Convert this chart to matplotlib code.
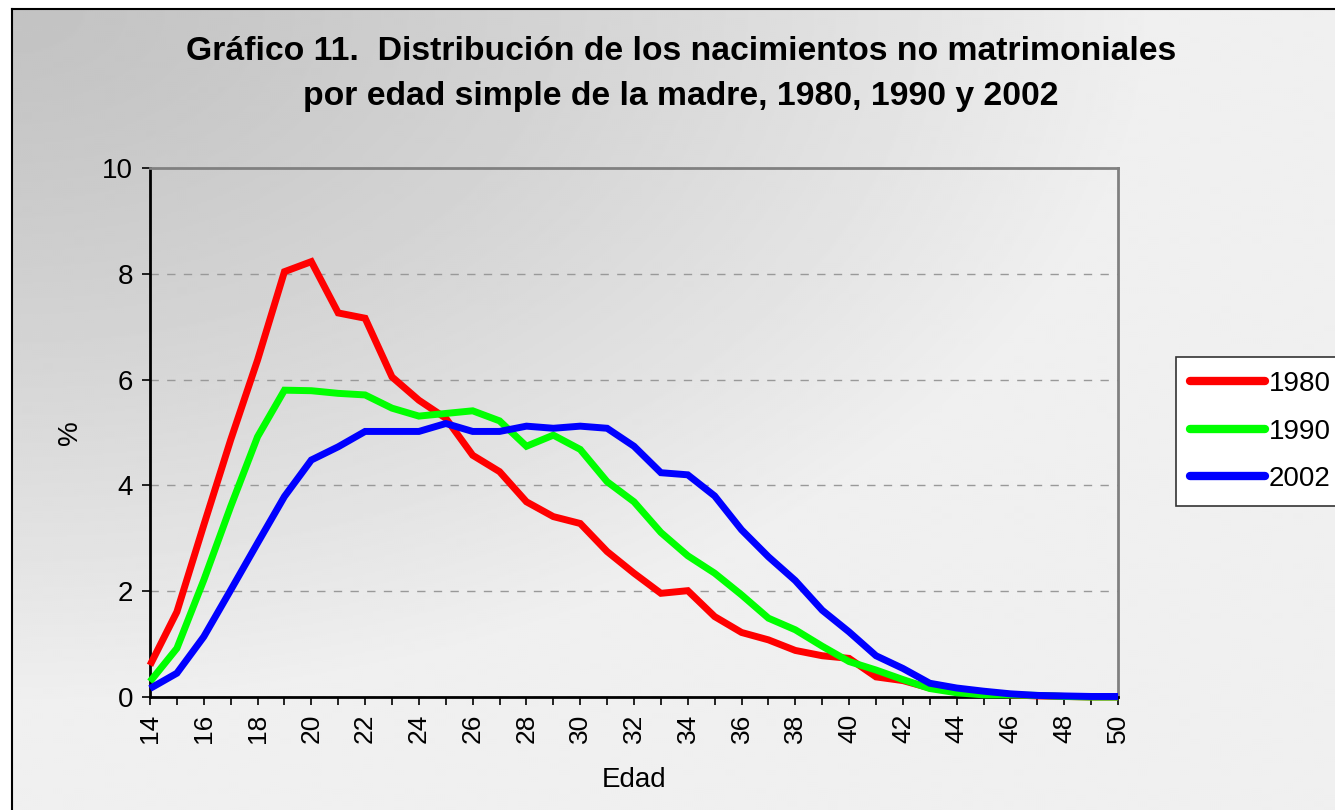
import numpy as np
import matplotlib.pyplot as plt

edad = list(range(14, 51))

y1980 = [0.6, 1.61, 3.25, 4.86, 6.37, 8.04, 8.23, 7.26, 7.16, 6.05, 5.61, 5.27,
         4.57, 4.26, 3.69, 3.41, 3.28, 2.75, 2.34, 1.96, 2.01, 1.52, 1.22, 1.08,
         0.88, 0.78, 0.73, 0.38, 0.31, 0.17, 0.12, 0.07, 0.04, 0.02, 0.01, 0.0, 0.0]
y1990 = [0.29, 0.92, 2.21, 3.6, 4.92, 5.8, 5.79, 5.74, 5.71, 5.46, 5.31, 5.36,
         5.41, 5.22, 4.74, 4.95, 4.68, 4.07, 3.69, 3.11, 2.67, 2.34, 1.93, 1.49,
         1.27, 0.96, 0.67, 0.51, 0.33, 0.16, 0.08, 0.04, 0.04, 0.03, 0.01, 0.0, 0.0]
y2002 = [0.16, 0.45, 1.14, 2.02, 2.91, 3.79, 4.48, 4.73, 5.02, 5.02, 5.02, 5.17,
         5.02, 5.02, 5.12, 5.08, 5.12, 5.08, 4.74, 4.24, 4.2, 3.8, 3.16, 2.65,
         2.2, 1.64, 1.23, 0.78, 0.54, 0.26, 0.17, 0.11, 0.06, 0.03, 0.02, 0.01, 0.01]

series = [("1980", y1980, "#ff0000"), ("1990", y1990, "#00ff00"), ("2002", y2002, "#0000ff")]

plt.rcParams['font.family'] = ['Liberation Sans', 'DejaVu Sans']

W, H = 1335, 810
fig = plt.figure(figsize=(W / 100, H / 100), dpi=100)
fig.patch.set_facecolor("white")

# background panel: gray gradient, darkest at the top-left corner
x0, y0 = 12, 9
bg = fig.add_axes([x0 / W, 0, 1 - x0 / W, 1 - y0 / H])
py, px = np.mgrid[y0:H:2, x0:W:2]
r = np.sqrt(((px - x0) / 1150.0) ** 2 + ((py - y0) / 700.0) ** 2)
grad = (195 + 45 * np.clip(r, 0, 1) ** 1.3) / 255.0
bg.imshow(grad, cmap="gray", vmin=0, vmax=1, aspect="auto", extent=[0, 1, 1, 0],
          interpolation="bilinear")
bg.set_xticks([])
bg.set_yticks([])
for s in ["right", "bottom"]:
    bg.spines[s].set_visible(False)
for s in ["left", "top"]:
    bg.spines[s].set_color("black")
    bg.spines[s].set_linewidth(1.5)

ax = fig.add_axes([150 / W, 1 - 697 / H, (1118 - 150) / W, (697 - 168) / H])
ax.set_facecolor("none")

for label, vals, col in series:
    ax.plot(edad, vals, color=col, lw=5, label=label, solid_capstyle="butt",
            solid_joinstyle="miter", zorder=3, clip_on=False)

ax.set_xlim(14, 50)
ax.set_ylim(0, 10)
ax.set_xticks(range(14, 51))
ax.set_xticklabels([str(v) if v % 2 == 0 else "" for v in range(14, 51)],
                   rotation=90, fontsize=19)
ax.set_yticks(range(0, 11, 2))
ax.set_yticklabels([str(v) for v in range(0, 11, 2)], fontsize=20)
ax.tick_params(direction="out", length=6, width=1.2, pad=6)
ax.yaxis.grid(True, linestyle=(0, (6, 6)), color="#999999", lw=1)
for gl in ax.get_ygridlines():
    gl.set_zorder(1)

ax.spines["left"].set_color("black")
ax.spines["bottom"].set_color("black")
ax.spines["top"].set_color("#808080")
ax.spines["right"].set_color("#808080")
for s in ax.spines.values():
    s.set_linewidth(2)

ax.set_xlabel("Edad", fontsize=20, labelpad=17)
ax.set_ylabel("%", fontsize=20, labelpad=14)

fig.text(681 / W, 1 - 52 / H, "Gráfico 11.  Distribución de los nacimientos no matrimoniales",
         ha="center", va="center", fontsize=24.3, fontweight="bold")
fig.text(681 / W, 1 - 97 / H, "por edad simple de la madre, 1980, 1990 y 2002",
         ha="center", va="center", fontsize=24.3, fontweight="bold")

leg = fig.legend(loc="upper left", bbox_to_anchor=(1176 / W, 1 - 357 / H),
                 fontsize=20, frameon=True, fancybox=False, handlelength=2.7,
                 handletextpad=0.15, labelspacing=0.78, borderpad=0.5, borderaxespad=0)
leg.get_frame().set_edgecolor("#333333")
leg.get_frame().set_linewidth(1.2)
leg.get_frame().set_alpha(1)
for h in leg.get_lines():
    h.set_linewidth(6)
    h.set_solid_capstyle("round")

fig.savefig("out.png", dpi=100)
